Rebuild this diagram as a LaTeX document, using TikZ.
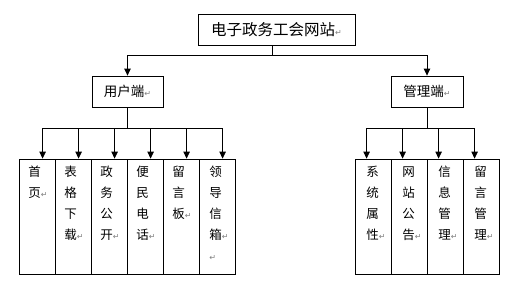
\documentclass[tikz,border=0pt]{standalone}
\usepackage{fontspec}
\newfontfamily\cjk{Noto Sans CJK SC}
\newfontfamily\dvsans{DejaVu Sans}
\usetikzlibrary{arrows.meta}
\newcommand{\retmark}{{\dvsans\fontsize{8}{8}\selectfont\textcolor{gray}{↵}}}
\begin{document}
\begin{tikzpicture}[x=1pt,y=-1pt,
  line width=0.8pt,
  box/.style={draw, inner sep=0pt, minimum height=31pt},
  leaf/.style={draw, inner sep=0pt, minimum width=36pt, minimum height=115pt},
  leaftext/.style={anchor=north west, inner sep=0pt, align=left, font=\cjk\fontsize{12.5}{21}\selectfont},
  arr/.style={-{Triangle[length=7pt,width=6.5pt]}}]
\useasboundingbox (0,0) rectangle (521,289);
% top
\node[box, minimum width=157pt, font=\cjk\fontsize{15.5}{15.5}\selectfont] (top) at (276.5,29.5) {电子政务工会网站\retmark};
\node[box, minimum width=71pt, font=\cjk\fontsize{13.5}{13.5}\selectfont] (user) at (127.5,91.5) {用户端\retmark};
\node[box, minimum width=72pt, font=\cjk\fontsize{13.5}{13.5}\selectfont] (admin) at (427,91.5) {管理端\retmark};
\coordinate (j0) at (272,55);
\draw (top.south -| j0) -- (j0);
\draw[arr] (j0) -| (user.north);
\draw[arr] (j0) -| (admin.north);
% user leaves
\node[leaf] (l1) at (37,216.5) {};
\node[leaf] (l2) at (73,216.5) {};
\node[leaf] (l3) at (109,216.5) {};
\node[leaf] (l4) at (145,216.5) {};
\node[leaf] (l5) at (181,216.5) {};
\node[leaf] (l6) at (217,216.5) {};
\node[leaftext] (t1) at (28,166) {首\\页\retmark};
\node[leaftext] (t2) at (64,166) {表\\格\\下\\载\retmark};
\node[leaftext] (t3) at (100,166) {政\\务\\公\\开\retmark};
\node[leaftext] (t4) at (136,166) {便\\民\\电\\话\retmark};
\node[leaftext] (t5) at (172,166) {留\\言\\板\retmark};
\node[leaftext] (t6) at (209,166) {领\\导\\信\\箱\retmark\\\retmark};
\coordinate (ju) at (127.5,128);
\draw (user.south) -- (ju);
\foreach \n in {l1,l2,l3,l4,l5,l6}{
  \draw[arr] (ju) -| ([xshift=24pt]\n.north west);
}
% admin leaves
\node[leaf] (r1) at (373,216.5) {};
\node[leaf] (r2) at (409,216.5) {};
\node[leaf] (r3) at (445,216.5) {};
\node[leaf] (r4) at (481,216.5) {};
\node[leaftext] (s1) at (366,166) {系\\统\\属\\性\retmark};
\node[leaftext] (s2) at (402,166) {网\\站\\公\\告\retmark};
\node[leaftext] (s3) at (438,166) {信\\息\\管\\理\retmark};
\node[leaftext] (s4) at (474,166) {留\\言\\管\\理\retmark};
\coordinate (ja) at (427,128);
\draw (admin.south) -- (ja);
\foreach \n in {r1,r2,r3,r4}{
  \draw[arr] (ja) -| ([xshift=12pt]\n.north west);
}
\end{tikzpicture}
\end{document}
